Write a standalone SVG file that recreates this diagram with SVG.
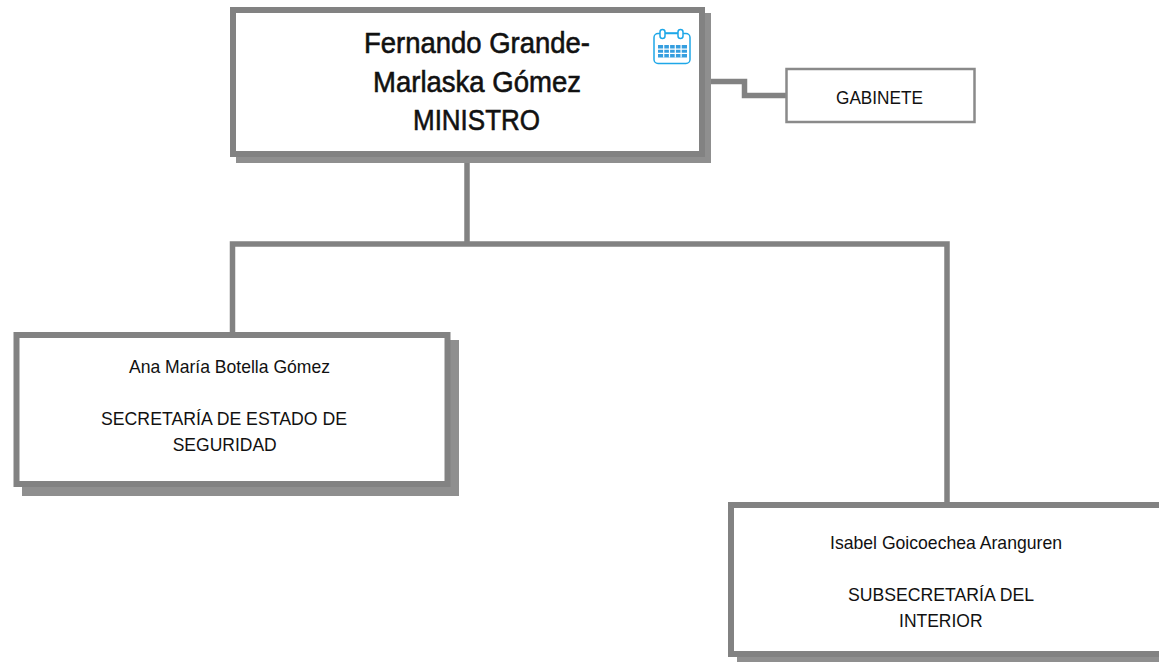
<svg xmlns="http://www.w3.org/2000/svg" width="1159" height="662" viewBox="0 0 1159 662">
<style>
text{font-family:"Liberation Sans",Arial,sans-serif;fill:#111;text-anchor:middle}
.big{font-size:30px;stroke:#111;stroke-width:.6}
.sm{font-size:18.500px}
.shadow{fill:#8f8f8f}
.box{fill:#fff;stroke:#828282;stroke-width:6}
.thin{fill:#fff;stroke:#8a8a8a;stroke-width:2.500}
.conn{fill:none;stroke:#828282;stroke-width:5.500}
.ic{fill:none;stroke:#1ea7e8;stroke-width:1.500}
.cell{fill:#1f94dc}
</style>
<rect width="1159" height="662" fill="#fff"/>
<g id="connectors">
<path class="conn" d="M467 157V244"/>
<path class="conn" d="M232.500 332V244H947V502"/>
<path class="conn" d="M705 81.500H744.500V95.500H786"/>
</g>
<g id="node-ministro">
<rect class="shadow" x="236" y="13" width="475" height="150"/>
<rect class="box" x="233" y="10" width="469" height="144"/>
<text class="big" x="477" y="53" textLength="226" lengthAdjust="spacingAndGlyphs">Fernando Grande-</text>
<text class="big" x="477" y="91.500" textLength="208" lengthAdjust="spacingAndGlyphs">Marlaska Gómez</text>
<text class="big" x="476.500" y="130" textLength="127" lengthAdjust="spacingAndGlyphs">MINISTRO</text>
<g id="calendar-icon">
<rect class="ic" x="654" y="33.500" width="36" height="30" rx="4"/>
<rect x="660" y="29.500" width="5" height="9" rx="2.500" fill="#fff" stroke="#1ea7e8" stroke-width="1.500"/>
<rect x="678" y="29.500" width="5" height="9" rx="2.500" fill="#fff" stroke="#1ea7e8" stroke-width="1.500"/>
<path class="ic" d="M665 33H678"/>
<rect class="cell" x="658" y="45" width="29" height="12.500" opacity="0.900"/>
<path d="M663.700 45V57.500M669.500 45V57.500M675.300 45V57.500M681.100 45V57.500M658 49.200H687M658 53.400H687" stroke="#fff" stroke-width="1.200" fill="none"/>
</g>
</g>
<g id="node-gabinete">
<rect class="thin" x="786.500" y="69" width="188" height="53"/>
<text class="sm" x="879.500" y="104" textLength="87" lengthAdjust="spacingAndGlyphs">GABINETE</text>
</g>
<g id="node-seguridad">
<rect class="shadow" x="22" y="340" width="437" height="156"/>
<rect class="box" x="16.500" y="335" width="431" height="149"/>
<text class="sm" x="229.500" y="373" textLength="201" lengthAdjust="spacingAndGlyphs">Ana María Botella Gómez</text>
<text class="sm" x="224" y="425" textLength="246" lengthAdjust="spacingAndGlyphs">SECRETARÍA DE ESTADO DE</text>
<text class="sm" x="224.700" y="451" textLength="104" lengthAdjust="spacingAndGlyphs">SEGURIDAD</text>
</g>
<g id="node-interior">
<rect class="shadow" x="737" y="511" width="440" height="151"/>
<rect class="box" x="731" y="505" width="440" height="149"/>
<text class="sm" x="946" y="549" textLength="232" lengthAdjust="spacingAndGlyphs">Isabel Goicoechea Aranguren</text>
<text class="sm" x="941" y="601" textLength="186" lengthAdjust="spacingAndGlyphs">SUBSECRETARÍA DEL</text>
<text class="sm" x="940.800" y="627" textLength="83.500" lengthAdjust="spacingAndGlyphs">INTERIOR</text>
</g>
</svg>
